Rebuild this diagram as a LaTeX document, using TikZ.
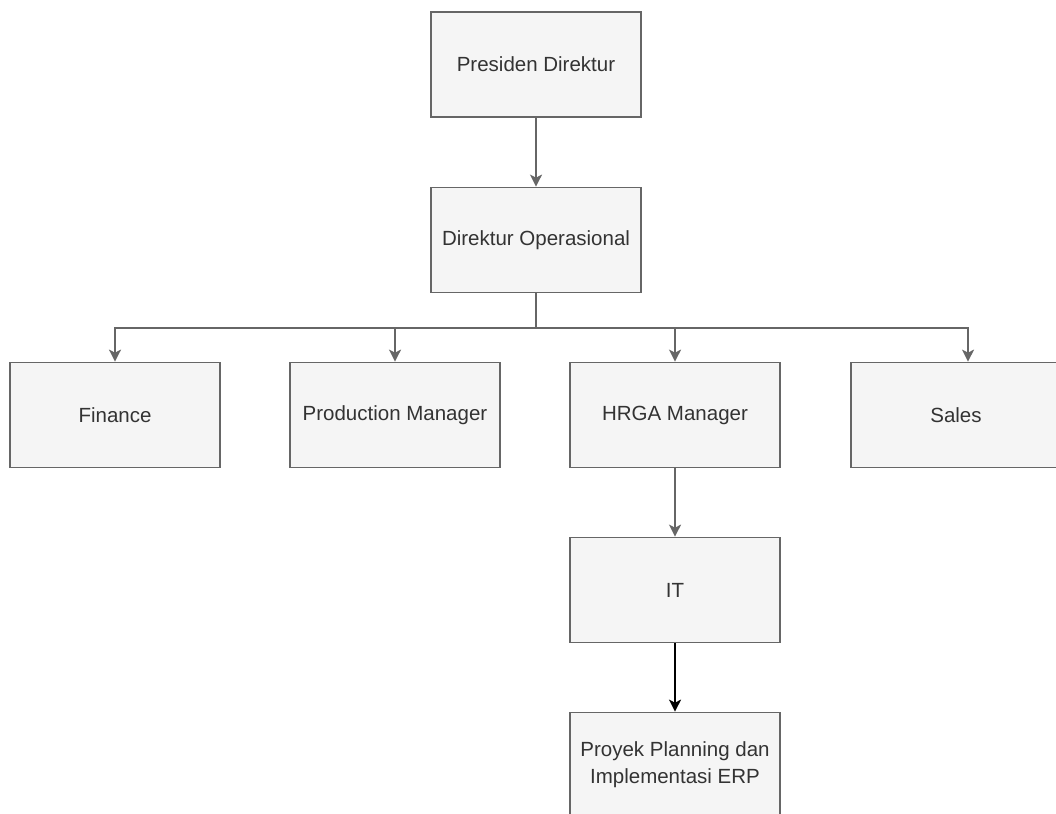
\documentclass[tikz,border=0pt]{standalone}
\usepackage{fontspec}
\setmainfont{Liberation Sans}
\usetikzlibrary{arrows.meta}
\definecolor{boxline}{HTML}{666666}
\definecolor{boxfill}{HTML}{F5F5F5}
\definecolor{boxtext}{HTML}{333333}
\tikzset{
  jabatan/.style={draw=boxline,fill=boxfill,line width=1.7pt,minimum width=210pt,minimum height=105pt,align=center,text=boxtext,font=\fontsize{20.5}{27}\selectfont},
  garis/.style={line width=1.7pt,draw=boxline,-{Stealth[length=12pt,width=12pt,inset=3pt]}},
  garishitam/.style={garis,draw=black}
}
\begin{document}
\begin{tikzpicture}[x=1pt,y=-1pt]
      \useasboundingbox (0,0) rectangle (1056,813);
      \node[jabatan] (presdir) at (536,64.5) {Presiden Direktur};
      \node[jabatan] (dirops) at (536,240) {Direktur Operasional};
      \node[jabatan] (finance) at (115,415) {Finance};
      \node[jabatan] (produksi) at (395,415) {Production Manager};
      \node[jabatan] (hrga) at (675,415) {HRGA Manager};
      \node[jabatan] (sales) at (956,415) {Sales};
      \node[jabatan] (it) at (675,590) {IT};
      \node[jabatan] (erp) at (675,765) {Proyek Planning dan\\Implementasi ERP};
      \coordinate (cabang) at (536,328);
      \draw[garis] (presdir) -- (dirops);
      \draw[garis] (dirops.south) -- (cabang) -| (finance.north);
      \draw[garis] (cabang) -| (produksi.north);
      \draw[garis] (cabang) -| (hrga.north);
      \draw[garis] (cabang) -| ([xshift=12pt]sales.north);
      \draw[garis] (hrga) -- (it);
      \draw[garishitam] (it) -- (erp);
    \end{tikzpicture}
\end{document}
